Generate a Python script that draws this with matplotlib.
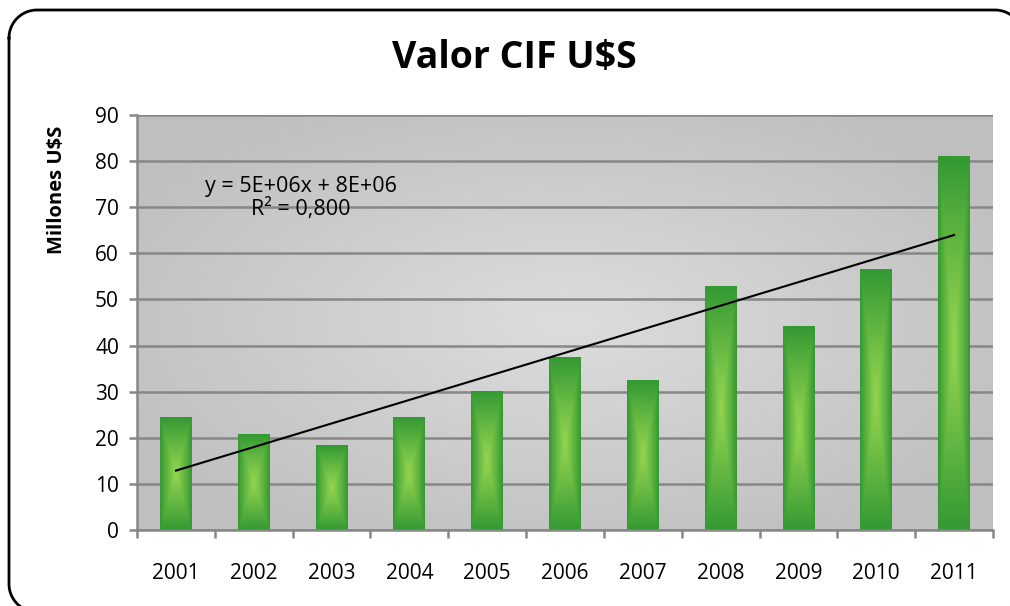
import numpy as np
import matplotlib
matplotlib.use("Agg")
from matplotlib import pyplot as plt

plt.rcParams['font.family'] = ['Open Sans', 'DejaVu Sans']

years = ['2001', '2002', '2003', '2004', '2005', '2006',
         '2007', '2008', '2009', '2010', '2011']
values = [24.5, 20.8, 18.4, 24.5, 30.0, 37.5, 32.5, 52.7, 44.2, 56.6, 81.0]
title = "Valor CIF U$S"
ylabel = "Millones U$S"
equation = "y = 5E+06x + 8E+06\nR² = 0,800"

dark_green = np.array([0x33, 0x99, 0x33]) / 255
light_green = np.array([0x94, 0xd4, 0x50]) / 255
bg_edge = np.array([0xbf, 0xbf, 0xbf]) / 255
bg_center = np.array([0xdd, 0xdd, 0xdd]) / 255
grid_col = '#878787'

fig = plt.figure(figsize=(10.1, 6.06), dpi=100)

# pixel-unit overlay for the rounded chart frame (y from the top)
frame_ax = fig.add_axes([0, 0, 1, 1])
frame_ax.set_xlim(0, 1010)
frame_ax.set_ylim(606, 0)
frame_ax.axis('off')
left, top, right, bottom, r = 9, 10, 1023, 612, 28
th = np.linspace(0, np.pi / 2, 30)
fx = np.concatenate([left + r - r * np.cos(th),          # top-left
                     right - r + r * np.sin(th),         # top-right
                     right - r + r * np.cos(th),         # bottom-right
                     left + r - r * np.sin(th),          # bottom-left
                     [left]])
fy = np.concatenate([top + r - r * np.sin(th),
                     top + r - r * np.cos(th),
                     bottom - r + r * np.sin(th),
                     bottom - r + r * np.cos(th),
                     [top + r]])
frame_ax.plot(fx, fy, color='black', lw=2, solid_joinstyle='round')

ax = fig.add_axes([137 / 1010, 1 - 530 / 606, 856 / 1010, 415 / 606])

x = np.arange(len(years))
ax.set_xlim(-0.5, len(years) - 0.5)
ax.set_ylim(0, 90)

# background gradient of plot area
n = 300
u, v = np.meshgrid(np.linspace(-1, 1, n), np.linspace(-1, 1, n))
t = np.clip(np.sqrt(u ** 2 + v ** 2) / 1.2, 0, 1)[..., None]
bg = bg_center * (1 - t) + bg_edge * t
ax.imshow(bg, extent=(-0.5, len(years) - 0.5, 0, 90), aspect='auto',
          zorder=0, interpolation='bilinear')

ax.yaxis.grid(True, color=grid_col, lw=1.8, zorder=1)
ax.set_axisbelow(True)

bars = ax.bar(x, values, width=0.41, color='none', zorder=2)
# rectangular "from centre" gradient in each bar
u, v = np.meshgrid(np.linspace(-1, 1, 80), np.linspace(-1, 1, 200))
t = np.maximum(np.abs(u), np.abs(v)) ** 1.1
t = t[..., None]
grad = light_green * (1 - t) + dark_green * t
for b in bars:
    x0, w, h = b.get_x(), b.get_width(), b.get_height()
    ax.imshow(grad, extent=(x0, x0 + w, 0, h), aspect='auto',
              zorder=2, interpolation='bilinear')

# linear trend line
k, c = np.polyfit(x + 1, values, 1)
ax.plot(x, k * (x + 1) + c, color='black', lw=1.5, zorder=3)

ax.text(0.1916, 0.80, equation, transform=ax.transAxes, ha='center',
        va='center', fontsize=15.5, linespacing=1.05, zorder=4)

for s in ['top', 'right']:
    ax.spines[s].set_visible(False)
for s in ['left', 'bottom']:
    ax.spines[s].set_color(grid_col)
    ax.spines[s].set_linewidth(1.8)

ax.set_yticks(range(0, 91, 10))
ax.tick_params(axis='y', direction='out', length=6, width=1.8,
               color=grid_col, pad=7, labelsize=15)
ax.set_xticks(x)
ax.set_xticklabels(years)
ax.tick_params(axis='x', which='major', length=0, pad=24, labelsize=15)
ax.set_xticks(np.arange(-0.5, len(years)), minor=True)
ax.tick_params(axis='x', which='minor', direction='out', length=6,
               width=1.8, color=grid_col)

fig.text(514 / 1010, 1 - 58 / 606, title, ha='center', va='center',
         fontsize=27, fontweight='bold')
fig.text(57 / 1010, 1 - 190 / 606, ylabel, ha='center', va='center',
         rotation=90, fontsize=14.5, fontweight='bold')

fig.savefig('out.png', dpi=100)
